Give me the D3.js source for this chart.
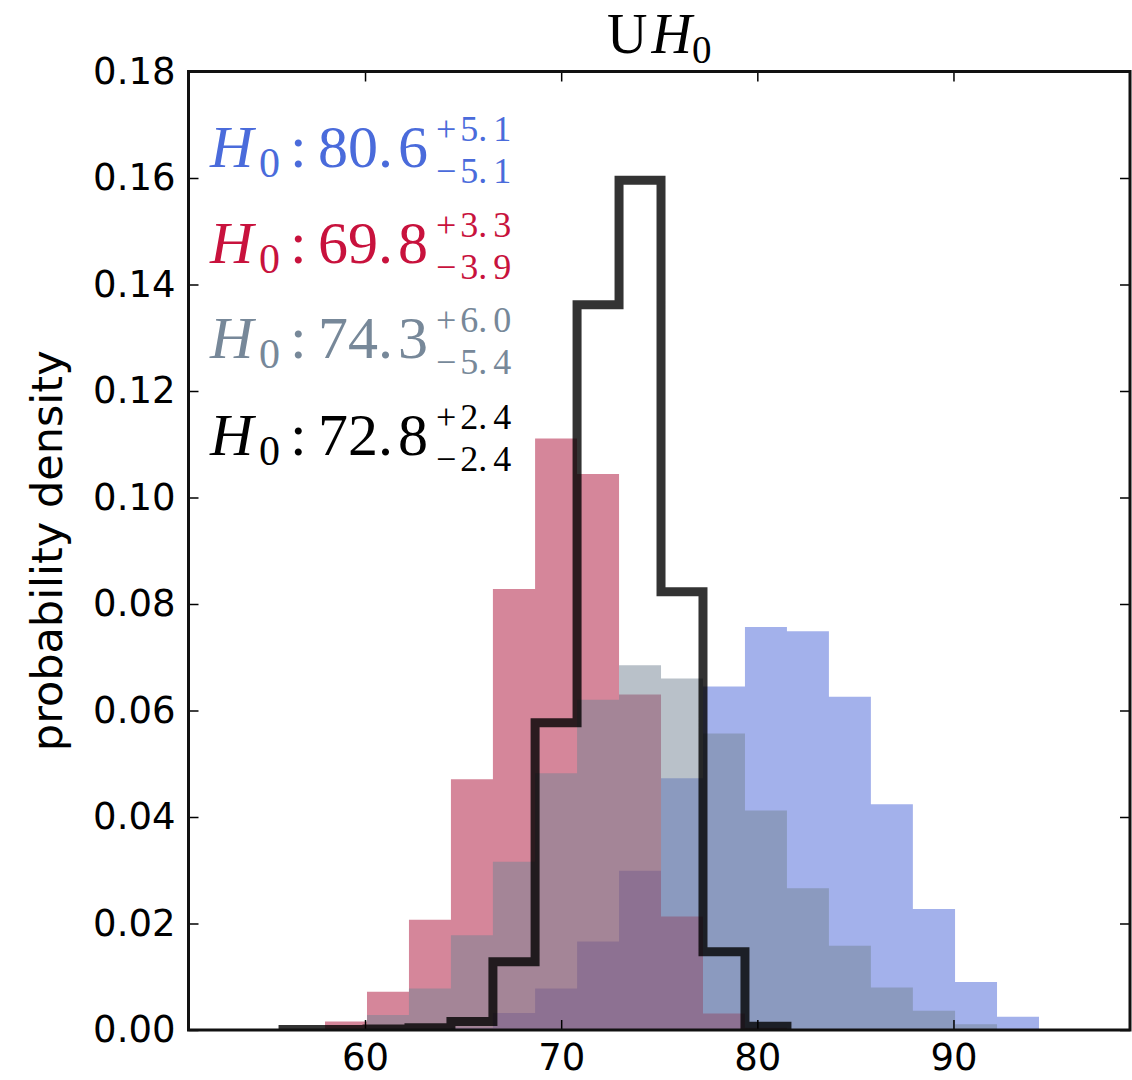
<!DOCTYPE html>
<html>
<head>
<meta charset="utf-8">
<script src="https://cdn.jsdelivr.net/npm/d3@7"></script>
<style>
  body { margin: 0; background: #fff; }
</style>
</head>
<body>
<svg id="chart" width="1132" height="1080"></svg>
<script>
// Shared histogram bin edges (H0, km/s/Mpc)
const binEdges = [55.82, 57.96, 60.10, 62.24, 64.38, 66.52, 68.67, 70.81, 72.95,
                  75.09, 77.23, 79.37, 81.51, 83.65, 85.79, 87.93, 90.08, 92.22, 94.36];

// Probability density per bin for each posterior
const blueDensity  = [0, 0, 0, 0, 0.0004, 0.0032, 0.0078, 0.0166, 0.0299, 0.0473,
                      0.0645, 0.0757, 0.0749, 0.0626, 0.0424, 0.0227, 0.0090, 0.0025];
const redDensity   = [0, 0.0016, 0.0072, 0.0207, 0.0471, 0.0828, 0.1111, 0.1044, 0.0630,
                      0.0213, 0.0031, 0.0004, 0, 0, 0, 0, 0, 0];
const grayDensity  = [0, 0, 0.0028, 0.0078, 0.0178, 0.0316, 0.0482, 0.0620, 0.0685,
                      0.0660, 0.0557, 0.0412, 0.0266, 0.0158, 0.0080, 0.0036, 0.0011, 0.0002];
const blackDensity = [0.0001, 0.0001, 0.0002, 0.0004, 0.0016, 0.0128, 0.0577, 0.1362,
                      0.1596, 0.0823, 0.0147, 0.0007];

// Summary statistics shown in the corner
const estimateValues = ["80.6", "69.8", "74.3", "72.8"];
const upperErrors    = ["5.1", "3.3", "6.0", "2.4"];
const lowerErrors    = ["5.1", "3.9", "5.4", "2.4"];

// Axis ticks
const xTicks = [60, 70, 80, 90];
const yTicks = [0, 0.02, 0.04, 0.06, 0.08, 0.10, 0.12, 0.14, 0.16, 0.18];
const yTickLabels = ["0.00", "0.02", "0.04", "0.06", "0.08", "0.10", "0.12", "0.14", "0.16", "0.18"];
const xDomain = [51, 99];
const yDomain = [0, 0.18];

// ---- layout ----
const plot = { left: 188.5, right: 1130, top: 71.5, bottom: 1030 };
const svg = d3.select("#chart");

const x = d3.scaleLinear().domain(xDomain).range([plot.left, plot.right]);
const y = d3.scaleLinear().domain(yDomain).range([plot.bottom, plot.top]);

svg.append("defs").append("clipPath").attr("id", "plot-clip")
  .append("rect")
  .attr("x", plot.left).attr("y", plot.top)
  .attr("width", plot.right - plot.left).attr("height", plot.bottom - plot.top);

const marks = svg.append("g").attr("clip-path", "url(#plot-clip)");

function stepPoints(values) {
  const pts = [];
  values.forEach((v, i) => {
    pts.push([binEdges[i], v]);
    pts.push([binEdges[i + 1], v]);
  });
  return pts;
}

const area = d3.area()
  .x(d => x(d[0]))
  .y0(y(0))
  .y1(d => y(d[1]));

const filled = [
  { values: blueDensity, fill: "#4763d7" },
  { values: redDensity,  fill: "#ab0d35" },
  { values: grayDensity, fill: "#738393" }
];

filled.forEach(s => {
  marks.append("path")
    .datum(stepPoints(s.values))
    .attr("d", area)
    .attr("fill", s.fill)
    .attr("fill-opacity", 0.5)
    .attr("stroke", "none");
});

// Step outline of the combined posterior
const outline = [[binEdges[0], 0], ...stepPoints(blackDensity), [binEdges[blackDensity.length], 0]];
marks.append("path")
  .datum(outline)
  .attr("d", d3.line().x(d => x(d[0])).y(d => y(d[1])))
  .attr("fill", "none")
  .attr("stroke", "#000")
  .attr("stroke-opacity", 0.8)
  .attr("stroke-width", 9)
  .attr("stroke-linejoin", "miter");

// ---- axes ----
const tickFont = "'DejaVu Sans', sans-serif";

function styleAxis(g) {
  g.select(".domain").remove();
  g.selectAll(".tick line").attr("stroke", "#000").attr("stroke-width", 1.5);
  g.selectAll(".tick text")
    .attr("fill", "#000")
    .attr("font-family", tickFont)
    .attr("font-size", 37);
}

svg.append("g")
  .attr("transform", `translate(${plot.left},0)`)
  .call(d3.axisLeft(y).tickValues(yTicks).tickFormat((d, i) => yTickLabels[i])
    .tickSize(-10).tickPadding(13))
  .call(styleAxis);

svg.append("g")
  .attr("transform", `translate(${plot.right},0)`)
  .call(d3.axisRight(y).tickValues(yTicks).tickFormat("").tickSize(-10))
  .call(styleAxis);

svg.append("g")
  .attr("transform", `translate(0,${plot.bottom})`)
  .call(d3.axisBottom(x).tickValues(xTicks).tickFormat(d3.format("d"))
    .tickSize(-10).tickPadding(14))
  .call(styleAxis);

svg.append("g")
  .attr("transform", `translate(0,${plot.top})`)
  .call(d3.axisTop(x).tickValues(xTicks).tickFormat("").tickSize(-10))
  .call(styleAxis);

// Frame
svg.append("rect")
  .attr("x", plot.left).attr("y", plot.top)
  .attr("width", plot.right - plot.left).attr("height", plot.bottom - plot.top)
  .attr("fill", "none").attr("stroke", "#111").attr("stroke-width", 3);

// Axis label
svg.append("text")
  .attr("transform", `translate(62,${(plot.top + plot.bottom) / 2}) rotate(-90)`)
  .attr("text-anchor", "middle")
  .attr("font-family", tickFont)
  .attr("font-size", 43)
  .attr("fill", "#000")
  .text("probability density");

// Title: U H_0
const mathFont = "'Liberation Serif', 'DejaVu Serif', serif";
const title = svg.append("text")
  .attr("x", (plot.left + plot.right) / 2)
  .attr("y", 53)
  .attr("text-anchor", "middle")
  .attr("font-family", mathFont)
  .attr("font-size", 56)
  .attr("fill", "#000");
title.append("tspan").text("U");
title.append("tspan").attr("dx", 4).attr("font-style", "italic").text("H");
title.append("tspan").attr("dy", 10).attr("font-size", 39).text("0");

// ---- H0 estimates: one text element per row, pieces placed as tspans ----
const rowColors = ["#4a6bdb", "#c8123d", "#778899", "#000000"];
const rowBaselines = [167, 263, 358, 455];
const scriptSize = 36;

function splitNumber(s) {
  const k = s.indexOf(".");
  return [s.slice(0, k + 1), s.slice(k + 1)];
}

estimateValues.forEach((val, i) => {
  const base = rowBaselines[i];
  const t = svg.append("text")
    .attr("fill", rowColors[i])
    .attr("font-family", mathFont)
    .attr("font-size", 60);

  t.append("tspan").attr("x", 210).attr("y", base)
    .attr("font-style", "italic").text("H");
  t.append("tspan").attr("x", 259).attr("y", base + 10)
    .attr("font-size", 42).text("0");
  t.append("tspan").attr("x", 290).attr("y", base).text(":");

  const [ip, fp] = splitNumber(val);
  t.append("tspan").attr("x", 318).attr("y", base).text(ip);
  t.append("tspan").attr("dx", 5).text(fp);

  const [ui, uf] = splitNumber(upperErrors[i]);
  t.append("tspan").attr("x", 436).attr("y", base - 26).attr("font-size", scriptSize).text("+");
  t.append("tspan").attr("dx", 4).attr("font-size", scriptSize).text(ui);
  t.append("tspan").attr("dx", 6).attr("font-size", scriptSize).text(uf);

  const [li, lf] = splitNumber(lowerErrors[i]);
  t.append("tspan").attr("x", 436).attr("y", base + 16).attr("font-size", scriptSize).text("\u2212");
  t.append("tspan").attr("dx", 4).attr("font-size", scriptSize).text(li);
  t.append("tspan").attr("dx", 6).attr("font-size", scriptSize).text(lf);
});
</script>
</body>
</html>
